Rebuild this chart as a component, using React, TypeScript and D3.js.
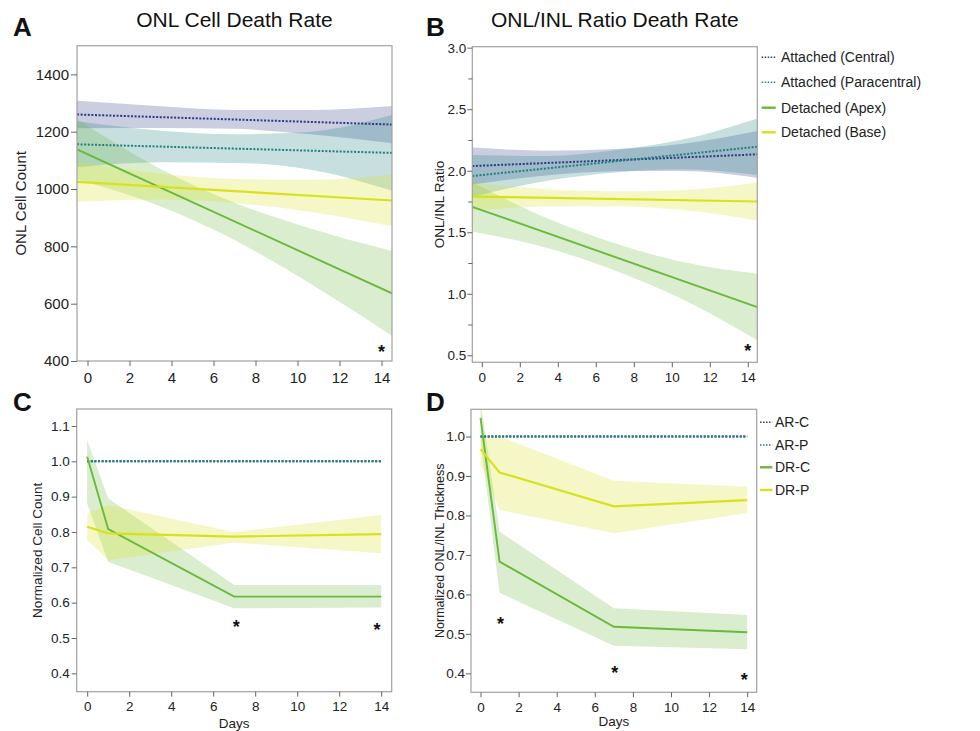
import React, { useEffect, useRef } from "react";
import * as d3 from "d3";

// --- panels A & B: linear fits over days, with confidence bands ---
const fitDays = [-0.5, 14.5];
const bandDays = [-0.5, 3.5, 7, 10.5, 14.5];

const aCentral = [1260, 1225];
const aCentralHi = [1308, 1289, 1276, 1276, 1290];
const aCentralLo = [1212, 1213, 1210, 1192, 1160];
const aPara = [1156, 1126];
const aParaHi = [1236, 1203, 1191, 1199, 1258];
const aParaLo = [1076, 1093, 1091, 1069, 994];
const aApex = [1138, 636];
const aApexHi = [1243, 1069, 952, 865, 784];
const aApexLo = [1033, 939, 822, 675, 488];
const aBase = [1025, 960];
const aBaseHi = [1095, 1053, 1035, 1032, 1050];
const aBaseLo = [955, 963, 951, 922, 870];

const bCentral = [2.038, 2.133];
const bCentralHi = [2.188, 2.163, 2.176, 2.218, 2.323];
const bCentralLo = [1.888, 1.963, 1.996, 1.998, 1.943];
const bPara = [1.957, 2.195];
const bParaHi = [2.127, 2.12, 2.166, 2.251, 2.425];
const bParaLo = [1.787, 1.92, 1.986, 2.011, 1.965];
const bApex = [1.707, 0.892];
const bApexHi = [1.907, 1.61, 1.41, 1.26, 1.162];
const bApexLo = [1.507, 1.37, 1.19, 0.96, 0.622];
const bBase = [1.79, 1.75];
const bBaseHi = [1.905, 1.849, 1.831, 1.842, 1.905];
const bBaseLo = [1.675, 1.709, 1.711, 1.682, 1.595];

// --- panels C & D: normalized means per day ---
const days = [0, 1, 7, 14];
const cARC = [1, 1, 1, 1];
const cARP = [1, 1, 1, 1];
const cDRC = [1.013, 0.808, 0.617, 0.617];
const cDRCHi = [1.06, 0.895, 0.65, 0.65];
const cDRCLo = [0.88, 0.716, 0.584, 0.586];
const cDRP = [0.815, 0.796, 0.787, 0.794];
const cDRPHi = [0.852, 0.876, 0.8, 0.848];
const cDRPLo = [0.777, 0.72, 0.77, 0.74];

const dARC = [1, 1, 1, 1];
const dARP = [1, 1, 1, 1];
const dDRC = [1.047, 0.683, 0.518, 0.504];
const dDRCHi = [1.09, 0.759, 0.565, 0.548];
const dDRCLo = [0.99, 0.604, 0.47, 0.461];
const dDRP = [0.968, 0.909, 0.823, 0.839];
const dDRPHi = [1.0, 1.0, 0.888, 0.873];
const dDRPLo = [0.93, 0.814, 0.755, 0.806];

// significance stars [day, value]
const aStars = [[14, 446]];
const bStars = [[14, 0.57]];
const cStars = [[7.1, 0.542], [13.8, 0.535]];
const dStars = [[1.05, 0.534], [7.05, 0.41], [13.85, 0.393]];

// ticks
const dayTicks = [0, 2, 4, 6, 8, 10, 12, 14];
const aYTicks = [400, 600, 800, 1000, 1200, 1400];
const bYTicks = [0.5, 1.0, 1.5, 2.0, 2.5, 3.0];
const bYMinor = [0.75, 1.25, 1.75, 2.25, 2.75];
const cYTicks = [0.4, 0.5, 0.6, 0.7, 0.8, 0.9, 1.0, 1.1];
const dYTicks = [0.4, 0.5, 0.6, 0.7, 0.8, 0.9, 1.0];

const abNames = ["Attached (Central)", "Attached (Paracentral)", "Detached (Apex)", "Detached (Base)"];
const cdNames = ["AR-C", "AR-P", "DR-C", "DR-P"];

const colors = ["#2d3a82", "#1f8080", "#6ab83c", "#d8e21c"];
const dotted = [true, true, false, false];

const FONT = "'Liberation Sans', Arial, Helvetica, sans-serif";

function makeSeries(lines, bands, xs, bx) {
    return lines.map((y, i) => ({
        x: xs, y,
        bx,
        hi: bands[i] ? bands[i][0] : null,
        lo: bands[i] ? bands[i][1] : null,
        color: colors[i],
        dotted: dotted[i],
    }));
}

const panels = [
    {
        id: "A", left: 77, top: 45.7, right: 392, bottom: 361,
        yDomain: [400, 1500], yTicks: aYTicks, yMinor: [], fmt: d3.format("d"),
        tickFont: 15, ytick: 6, ypad: 2, xpad: 6,
        title: "ONL Cell Death Rate", letterX: 13, letterY: 36,
        yLabel: "ONL Cell Count", yLabelX: 21, yLabelFont: 15,
        curve: d3.curveMonotoneX,
        series: makeSeries([aCentral, aPara, aApex, aBase],
            [[aCentralHi, aCentralLo], [aParaHi, aParaLo], [aApexHi, aApexLo], [aBaseHi, aBaseLo]],
            fitDays, bandDays),
        stars: aStars,
    },
    {
        id: "B", left: 472.3, top: 46.7, right: 757.3, bottom: 362.3,
        yDomain: [0.443, 3.008], yTicks: bYTicks, yMinor: bYMinor, fmt: d3.format(".1f"),
        tickFont: 13.5, ytick: 5, ypad: 1, xpad: 5,
        title: "ONL/INL Ratio Death Rate", letterX: 426, letterY: 36,
        yLabel: "ONL/INL Ratio", yLabelX: 439, yLabelFont: 13.5,
        curve: d3.curveMonotoneX,
        series: makeSeries([bCentral, bPara, bApex, bBase],
            [[bCentralHi, bCentralLo], [bParaHi, bParaLo], [bApexHi, bApexLo], [bBaseHi, bBaseLo]],
            fitDays, bandDays),
        stars: bStars,
        legend: { names: abNames, x0: 761.7, x1: 775.7, tx: 781, rows: [57.3, 82.3, 107.7, 132.3], font: 14 },
    },
    {
        id: "C", left: 76.7, top: 409, right: 391.7, bottom: 691.7,
        yDomain: [0.348, 1.148], yTicks: cYTicks, yMinor: [], fmt: d3.format(".1f"),
        tickFont: 13.5, ytick: 5, ypad: 2, xpad: 5,
        letterX: 13, letterY: 411,
        yLabel: "Normalized Cell Count", yLabelX: 37.7, yLabelFont: 13.5,
        xLabel: "Days", xLabelY: 728,
        curve: d3.curveLinear,
        series: makeSeries([cARC, cARP, cDRC, cDRP],
            [null, null, [cDRCHi, cDRCLo], [cDRPHi, cDRPLo]], days, days),
        stars: cStars,
    },
    {
        id: "D", left: 471, top: 409.3, right: 756.7, bottom: 692.3,
        yDomain: [0.352, 1.069], yTicks: dYTicks, yMinor: [], fmt: d3.format(".1f"),
        tickFont: 13.5, ytick: 5, ypad: 1, xpad: 5,
        letterX: 426, letterY: 410.5,
        yLabel: "Normalized ONL/INL Thickness", yLabelX: 440, yLabelFont: 12.5,
        xLabel: "Days", xLabelY: 725.5,
        curve: d3.curveLinear,
        series: makeSeries([dARC, dARP, dDRC, dDRP],
            [null, null, [dDRCHi, dDRCLo], [dDRPHi, dDRPLo]], days, days),
        stars: dStars,
        legend: { names: cdNames, x0: 760, x1: 772.3, tx: 775, rows: [422.3, 445, 467.3, 490], font: 14 },
    },
];

function drawPanel(svg, p) {
    const x = d3.scaleLinear().domain([-0.5, 14.5]).range([p.left, p.right]);
    const y = d3.scaleLinear().domain(p.yDomain).range([p.bottom, p.top]);

    const g = svg.append("g");
    const clipId = "clip" + p.id;
    svg.append("clipPath").attr("id", clipId)
        .append("rect")
        .attr("x", p.left).attr("y", p.top)
        .attr("width", p.right - p.left).attr("height", p.bottom - p.top);

    const plot = g.append("g").attr("clip-path", "url(#" + clipId + ")");

    // bands first
    p.series.forEach(s => {
        if (!s.hi) return;
        const pts = s.bx.map((d, i) => ({ d, hi: s.hi[i], lo: s.lo[i] }));
        const area = d3.area()
            .x(v => x(v.d))
            .y0(v => y(v.lo))
            .y1(v => y(v.hi))
            .curve(p.curve);
        plot.append("path")
            .attr("d", area(pts))
            .attr("fill", s.color)
            .attr("fill-opacity", 0.25)
            .attr("stroke", "none");
    });

    p.series.forEach(s => {
        const pts = s.x.map((d, i) => [d, s.y[i]]);
        const line = d3.line().x(v => x(v[0])).y(v => y(v[1]));
        plot.append("path")
            .attr("d", line(pts))
            .attr("fill", "none")
            .attr("stroke", s.color)
            .attr("stroke-width", s.dotted ? 2 : (s.color === colors[3] ? 2.2 : 1.9))
            .attr("stroke-dasharray", s.dotted ? "2,1.6" : null);
    });

    // frame
    g.append("rect")
        .attr("x", p.left).attr("y", p.top)
        .attr("width", p.right - p.left).attr("height", p.bottom - p.top)
        .attr("fill", "none").attr("stroke", "#a0a0a0").attr("stroke-width", 1.2);

    // axes
    const yAxis = d3.axisLeft(y).tickValues(p.yTicks).tickFormat(p.fmt)
        .tickSize(p.ytick).tickPadding(p.ypad);
    const ya = g.append("g").attr("transform", "translate(" + p.left + ",0)").call(yAxis);
    ya.select(".domain").remove();

    if (p.yMinor.length) {
        const ym = g.append("g").attr("transform", "translate(" + p.left + ",0)")
            .call(d3.axisLeft(y).tickValues(p.yMinor).tickFormat(() => "").tickSize(4));
        ym.select(".domain").remove();
    }

    const xAxis = d3.axisBottom(x).tickValues(dayTicks).tickFormat(d3.format("d"))
        .tickSize(5).tickPadding(p.xpad);
    const xa = g.append("g").attr("transform", "translate(0," + p.bottom + ")").call(xAxis);
    xa.select(".domain").remove();

    g.selectAll(".tick line").attr("stroke", "#666");
    g.selectAll(".tick text")
        .style("font-family", FONT)
        .style("font-size", p.tickFont + "px")
        .attr("fill", "#222");

    // stars
    p.stars.forEach(s => {
        g.append("text")
            .attr("x", x(s[0])).attr("y", y(s[1]) + 10)
            .attr("text-anchor", "middle")
            .style("font-family", FONT).style("font-size", "18px").style("font-weight", "bold")
            .attr("fill", "#111")
            .text("*");
    });

    // labels
    g.append("text")
        .attr("transform", "translate(" + p.yLabelX + "," + (p.top + p.bottom) / 2 + ") rotate(-90)")
        .attr("text-anchor", "middle").attr("dy", "0.35em")
        .style("font-family", FONT).style("font-size", p.yLabelFont + "px")
        .attr("fill", "#222")
        .text(p.yLabel);

    if (p.xLabel) {
        g.append("text")
            .attr("x", (p.left + p.right) / 2).attr("y", p.xLabelY)
            .attr("text-anchor", "middle")
            .style("font-family", FONT).style("font-size", "13.5px")
            .attr("fill", "#222")
            .text(p.xLabel);
    }

    if (p.title) {
        g.append("text")
            .attr("x", (p.left + p.right) / 2).attr("y", 27)
            .attr("text-anchor", "middle")
            .style("font-family", FONT).style("font-size", "21px")
            .attr("fill", "#111")
            .text(p.title);
    }

    g.append("text")
        .attr("x", p.letterX).attr("y", p.letterY)
        .style("font-family", FONT).style("font-size", "26px").style("font-weight", "bold")
        .attr("fill", "#111")
        .text(p.id);

    if (p.legend) {
        const L = p.legend;
        p.series.forEach((s, i) => {
            g.append("line")
                .attr("x1", L.x0).attr("x2", L.x1)
                .attr("y1", L.rows[i]).attr("y2", L.rows[i])
                .attr("stroke", s.color)
                .attr("stroke-width", s.dotted ? 1.6 : 2.4)
                .attr("stroke-dasharray", s.dotted ? "1.5,1.5" : null);
            g.append("text")
                .attr("x", L.tx).attr("y", L.rows[i]).attr("dy", "0.35em")
                .style("font-family", FONT).style("font-size", L.font + "px")
                .attr("fill", "#222")
                .text(L.names[i]);
        });
    }
}

export default function App() {
    const ref = useRef(null);

    useEffect(() => {
        const svg = d3.select(ref.current);
        svg.selectAll("*").remove();
        panels.forEach(p => drawPanel(svg, p));
    }, []);

    return (
        <div style={{ position: "absolute", left: 0, top: 0 }}>
            <svg ref={ref} width={980} height={731} style={{ display: "block", background: "#fff" }} />
        </div>
    );
}
